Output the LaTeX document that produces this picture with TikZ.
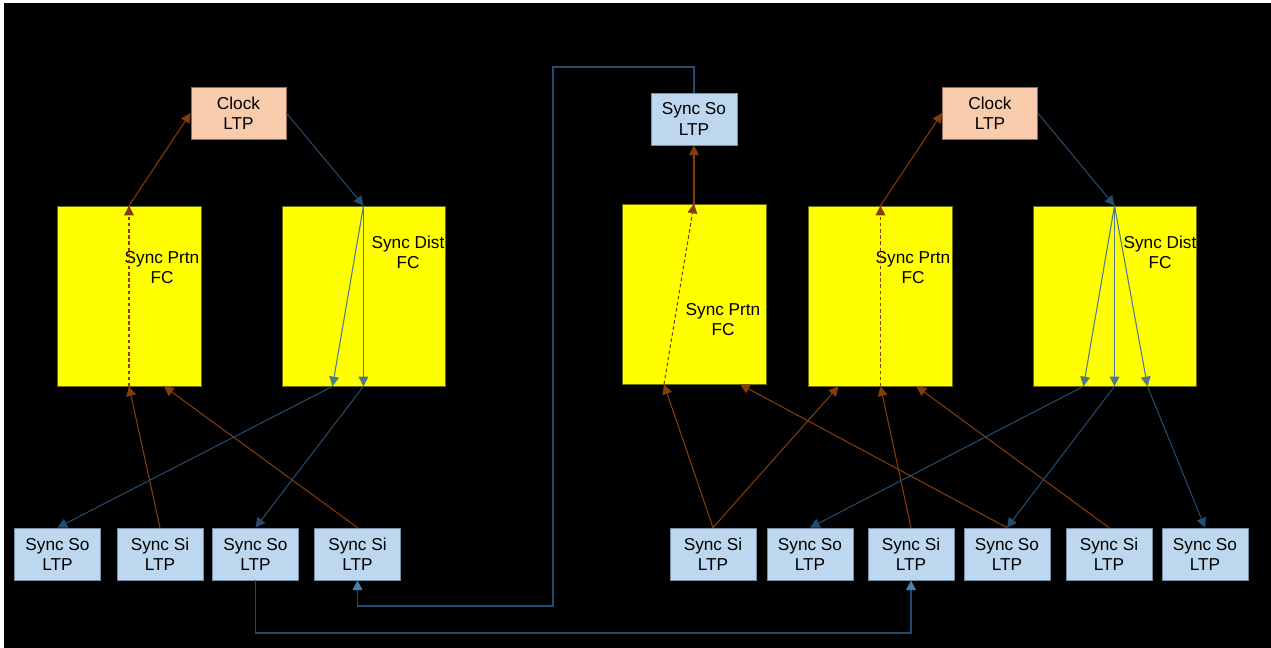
\documentclass[tikz,border=0pt]{standalone}
\usepackage{fontspec}
\setmainfont{Liberation Sans}
\definecolor{brown1}{RGB}{132, 60, 12}
\definecolor{blue1}{RGB}{36, 76, 112}
\definecolor{blue2}{RGB}{80, 120, 140}
\definecolor{blue3}{RGB}{70, 128, 182}
\definecolor{peach1}{RGB}{248, 203, 173}
\definecolor{peach2}{RGB}{150, 110, 90}
\definecolor{sky1}{RGB}{189, 215, 238}
\definecolor{sky2}{RGB}{120, 140, 165}
\definecolor{olive1}{RGB}{110, 110, 0}
\definecolor{yellow1}{RGB}{255, 255, 0}
\usetikzlibrary{arrows.meta, positioning}
\tikzset{
  boxfont/.style={font=\fontsize{9.8}{11.4}\selectfont, align=center, text=black},
  ltp/.style={boxfont, draw=sky2, fill=sky1, minimum width=1.72cm, minimum height=1.04cm, inner sep=0pt},
  clockltp/.style={boxfont, draw=peach2, fill=peach1, minimum width=1.9cm, minimum height=1.04cm, inner sep=0pt},
  fcbox/.style={draw=olive1, fill=yellow1, minimum width=2.88cm, minimum height=3.6cm, inner sep=0pt},
  distbox/.style={fcbox, minimum width=3.26cm},
  fctext/.style={boxfont, inner sep=0pt},
  tip/.style={-{Triangle[width=5.5pt, length=5.5pt]}},
  sigline/.style={tip, brown1, line width=0.6pt},
  sigdash/.style={sigline, dash pattern=on 2pt off 1.5pt},
  distline/.style={tip, blue1, line width=0.6pt},
  innerline/.style={tip, blue2, line width=0.6pt},
  wire/.style={blue1, line width=0.6pt, -{Triangle[width=5.5pt, length=5.5pt, color=blue3]}}
}

\begin{document}
\begin{tikzpicture}[x=0.02cm, y=-0.02cm]
  \fill[white] (0,0) rectangle (1271,648);
  \fill[black] (4,3) rectangle (1271,648);

  % top row
  \node[clockltp] (clockL) at (238.5,113) {Clock\\LTP};
  \node[clockltp] (clockR) at (990,113) {Clock\\LTP};
  \node[ltp] (soTop) at (694,119) {Sync So\\LTP};

  % function blocks
  \node[fcbox] (prtnA) at (129,296) {};
  \node[distbox] (distB) at (363.5,296) {};
  \node[fcbox] (prtnC) at (694,294) {};
  \node[fcbox] (prtnD) at (880.5,296) {};
  \node[distbox] (distE) at (1114.5,296) {};
  \node[fctext] (prtnAtxt) at (162,268) {Sync Prtn\\FC};
  \node[fctext] (distBtxt) at (408,252) {Sync Dist\\FC};
  \node[fctext] (prtnCtxt) at (723,320) {Sync Prtn\\FC};
  \node[fctext] (prtnDtxt) at (913,268) {Sync Prtn\\FC};
  \node[fctext] (distEtxt) at (1160,252) {Sync Dist\\FC};

  % bottom row
  \node[ltp] (soL1) at (57.5,554) {Sync So\\LTP};
  \node[ltp] (siL2) at (160,554) {Sync Si\\LTP};
  \node[ltp] (soL3) at (255.5,554) {Sync So\\LTP};
  \node[ltp] (siL4) at (357.5,554) {Sync Si\\LTP};
  \node[ltp] (siR1) at (713,554) {Sync Si\\LTP};
  \node[ltp] (soR2) at (810,554) {Sync So\\LTP};
  \node[ltp] (siR3) at (911,554) {Sync Si\\LTP};
  \node[ltp] (soR4) at (1007,554) {Sync So\\LTP};
  \node[ltp] (siR5) at (1109,554) {Sync Si\\LTP};
  \node[ltp] (soR6) at (1205,554) {Sync So\\LTP};

  % anchor points on the block edges
  \coordinate (prtnAb) at ([xshift=0.7cm]prtnA.south);
  \coordinate (distBa) at ([xshift=-0.62cm]distB.south);
  \coordinate (prtnCa) at ([xshift=-0.6cm]prtnC.south);
  \coordinate (prtnCb) at ([xshift=0.92cm]prtnC.south);
  \coordinate (prtnDa) at ([xshift=-0.84cm]prtnD.south);
  \coordinate (prtnDb) at ([xshift=0.72cm]prtnD.south);
  \coordinate (distEa) at ([xshift=-0.62cm]distE.south);
  \coordinate (distEb) at ([xshift=0.66cm]distE.south);
  \coordinate (turnA) at (553,67);
  \coordinate (turnB) at (553,606);
  \coordinate (turnC) at (911,633);

  % left group
  \draw[sigline] (prtnA.north) -- (clockL.west);
  \draw[sigdash] (prtnA.south) -- (prtnA.north);
  \draw[sigline] (siL2.north) -- (prtnA.south);
  \draw[sigline] (siL4.north) -- (prtnAb);
  \draw[distline] (clockL.east) -- (distB.north);
  \draw[innerline] (distB.north) -- (distBa);
  \draw[innerline] (distB.north) -- (distB.south);
  \draw[distline] (distBa) -- (soL1.north);
  \draw[distline] (distB.south) -- (soL3.north);

  % middle group
  \draw[sigline] (prtnC.north) -- (soTop.south);
  \draw[sigdash] (prtnCa) -- (prtnC.north);
  \draw[sigline] (siR1.north) -- (prtnCa);
  \draw[sigline] (soR4.north) -- (prtnCb);

  % right group
  \draw[sigline] (prtnD.north) -- (clockR.west);
  \draw[sigdash] (prtnD.south) -- (prtnD.north);
  \draw[sigline] (siR1.north) -- (prtnDa);
  \draw[sigline] (siR3.north) -- (prtnD.south);
  \draw[sigline] (siR5.north) -- (prtnDb);
  \draw[distline] (clockR.east) -- (distE.north);
  \draw[innerline] (distE.north) -- (distEa);
  \draw[innerline] (distE.north) -- (distE.south);
  \draw[innerline] (distE.north) -- (distEb);
  \draw[distline] (distEa) -- (soR2.north);
  \draw[distline] (distE.south) -- (soR4.north);
  \draw[distline] (distEb) -- (soR6.north);

  % long links
  \draw[wire] (soTop.north) |- (turnA) -- (turnB) -| (siL4.south);
  \draw[wire] (soL3.south) |- (turnC) -- (siR3.south);
\end{tikzpicture}
\end{document}
